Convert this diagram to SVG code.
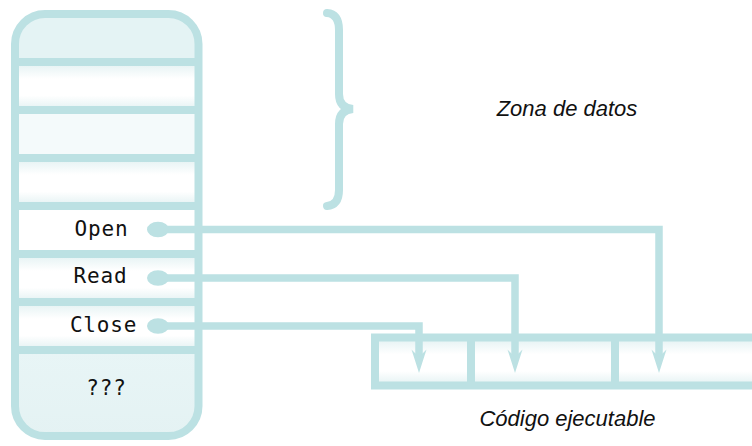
<svg xmlns="http://www.w3.org/2000/svg" width="752" height="446" viewBox="0 0 752 446">
  <style>
    .ln { fill: none; stroke: #BCE1E3; stroke-width: 8; }
    .cn { fill: none; stroke: #BCE1E3; stroke-width: 7.5; stroke-linejoin: miter; }
    .dot { fill: #BCE1E3; }
    .mono { font-family: "DejaVu Sans Mono", monospace; font-size: 21px; fill: #111; text-anchor: middle; letter-spacing: 0.8px; }
    .lbl { font-family: "Liberation Sans", Arial, sans-serif; font-size: 22px; font-style: italic; fill: #111; text-anchor: middle; }
  </style>
  <defs>
    <linearGradient id="g" x1="0" y1="0" x2="0" y2="1">
      <stop offset="0" stop-color="#E2F1F2"/>
      <stop offset="0.35" stop-color="#FFFFFF"/>
      <stop offset="0.7" stop-color="#FFFFFF"/>
      <stop offset="1" stop-color="#E2F1F2"/>
    </linearGradient>
    <linearGradient id="g2" x1="0" y1="0" x2="0" y2="1">
      <stop offset="0" stop-color="#E8F5F6"/>
      <stop offset="1" stop-color="#E4F2F3"/>
    </linearGradient>
    <clipPath id="col">
      <rect x="15" y="14" width="183.5" height="422" rx="30" ry="30"/>
    </clipPath>
    <polygon id="ah" points="0,0 -7.5,-23.5 0,-16 7.5,-23.5" fill="#BCE1E3"/>
  </defs>

  <g id="memory">
    <g clip-path="url(#col)">
      <rect x="15" y="14" width="184" height="48" fill="#E4F3F4"/>
      <rect x="15" y="62" width="184" height="48" fill="url(#g)"/>
      <rect x="15" y="110" width="184" height="48" fill="#F4FAFB"/>
      <rect x="15" y="158" width="184" height="48" fill="url(#g)"/>
      <rect x="15" y="206" width="184" height="48" fill="#FFFFFF"/>
      <rect x="15" y="254" width="184" height="48" fill="url(#g)"/>
      <rect x="15" y="302" width="184" height="48" fill="url(#g)"/>
      <rect x="15" y="350" width="184" height="90" fill="url(#g2)"/>
    </g>
    <path class="ln" d="M15,62 H198.5 M15,110 H198.5 M15,158 H198.5 M15,206 H198.5 M15,254 H198.5 M15,302 H198.5 M15,350 H198.5"/>
    <rect class="ln" x="15" y="14" width="183.5" height="422" rx="30" ry="30"/>
    <text class="mono" x="101.5" y="236">Open</text>
    <text class="mono" x="100.5" y="283">Read</text>
    <text class="mono" x="103.5" y="332">Close</text>
    <text class="mono" x="106.5" y="395">???</text>
  </g>

  <g id="code">
    <rect x="375" y="337.5" width="400" height="48" fill="url(#g)"/>
    <path class="ln" d="M471,337.5 V385.5 M615,337.5 V385.5"/>
    <rect class="ln" x="375" y="337.5" width="400" height="48"/>
  </g>

  <g id="brace">
    <path class="ln" stroke-linecap="round" d="M327,13 Q339,14 339,30 L339,94 Q339,108 353,109 Q339,110 339,124 L339,190 Q339,205 327,206"/>
  </g>

  <g id="labels">
    <text class="lbl" x="567" y="116">Zona de datos</text>
    <text class="lbl" x="567.5" y="426">Código ejecutable</text>
  </g>

  <g id="connectors">
    <path class="cn" d="M157,229.5 H659 V358"/>
    <path class="cn" d="M157,278 H515 V358"/>
    <path class="cn" d="M157,326 H419 V358"/>
    <ellipse class="dot" cx="158" cy="229.5" rx="11" ry="7.8"/>
    <ellipse class="dot" cx="158" cy="278" rx="11" ry="7.8"/>
    <ellipse class="dot" cx="158" cy="326" rx="11" ry="7.8"/>
    <use href="#ah" x="659" y="373"/>
    <use href="#ah" x="515" y="373"/>
    <use href="#ah" x="419" y="373"/>
  </g>
</svg>
